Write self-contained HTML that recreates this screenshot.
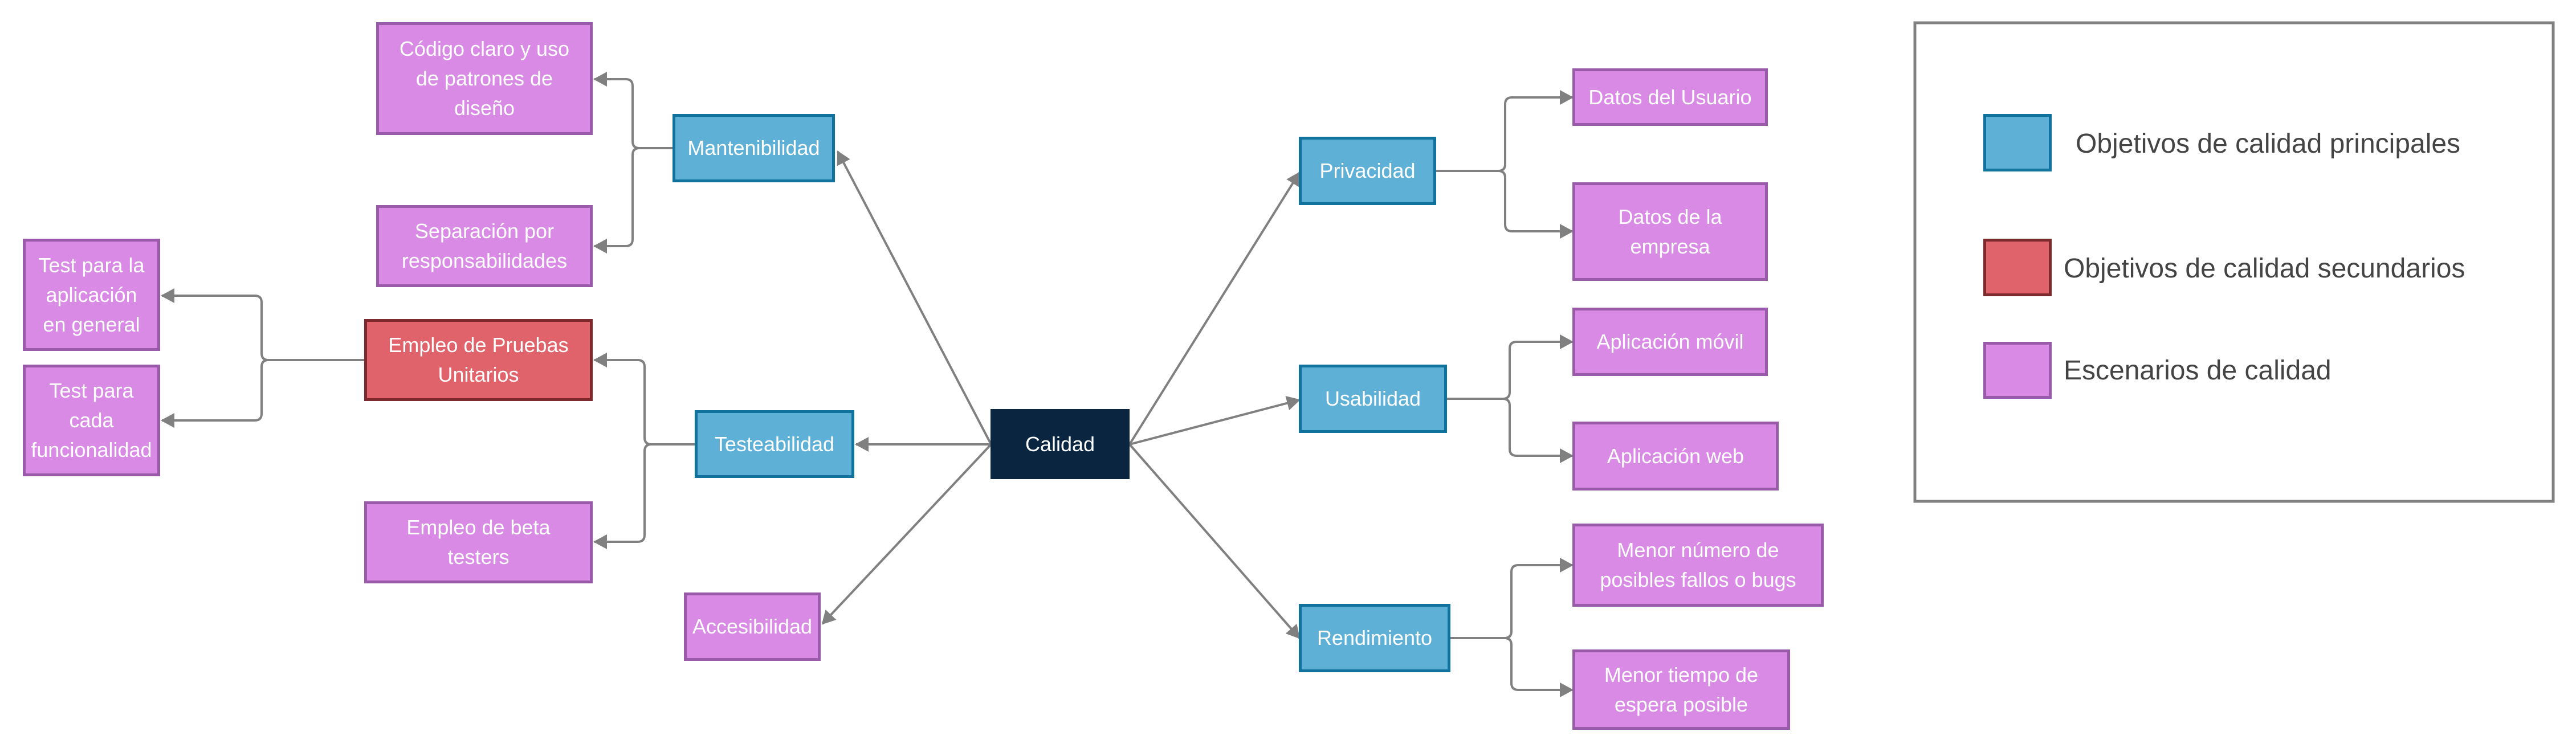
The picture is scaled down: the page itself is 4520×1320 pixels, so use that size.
<!DOCTYPE html>
<html><head><meta charset="utf-8"><style>
html,body{margin:0;padding:0;background:#fff;}
#c{position:relative;width:4520px;height:1320px;overflow:hidden;font-family:"Liberation Sans",sans-serif;}
.n{position:absolute;box-sizing:border-box;display:flex;align-items:center;justify-content:center;text-align:center;color:#fff;font-size:36px;line-height:52px;border:5px solid;}
.b{background:#5fb0d6;border-color:#10739e;}
.r{background:#e0636b;border-color:#7d2a2e;}
.p{background:#d88ae5;border-color:#9a5aaa;}
.d{background:#0a2540;border-color:#0a2540;}
.lt{position:absolute;font-size:48px;color:#444;white-space:nowrap;line-height:50px;}
svg{position:absolute;left:0;top:0;}
</style></head><body><div id="c">
<svg width="4520" height="1320">
<defs><marker id="a" markerUnits="userSpaceOnUse" markerWidth="24" markerHeight="26" refX="22" refY="13" orient="auto"><path d="M0,0 L24,13 L0,26 Z" fill="#808080"/></marker></defs>
<g fill="none" stroke="#808080" stroke-width="4">
<path d="M1180,260 H1122 Q1110,260 1110,248 V151 Q1110,139 1098,139 H1043" marker-end="url(#a)"/>
<path d="M1180,260 H1122 Q1110,260 1110,272 V420 Q1110,432 1098,432 H1043" marker-end="url(#a)"/>
<path d="M639,632 H471 Q459,632 459,620 V531 Q459,519 447,519 H284" marker-end="url(#a)"/>
<path d="M639,632 H471 Q459,632 459,644 V726 Q459,738 447,738 H284" marker-end="url(#a)"/>
<path d="M1219,780 H1143 Q1131,780 1131,768 V644 Q1131,632 1119,632 H1043" marker-end="url(#a)"/>
<path d="M1219,780 H1143 Q1131,780 1131,792 V939 Q1131,951 1119,951 H1043" marker-end="url(#a)"/>
<path d="M1739,780 L1470,266" marker-end="url(#a)"/>
<path d="M1739,780 H1502" marker-end="url(#a)"/>
<path d="M1739,780 L1443,1095" marker-end="url(#a)"/>
<path d="M1982,780 L2280,303" marker-end="url(#a)"/>
<path d="M1982,780 L2280,702" marker-end="url(#a)"/>
<path d="M1982,780 L2280,1120" marker-end="url(#a)"/>
<path d="M2520,300 H2629 Q2641,300 2641,288 V183 Q2641,171 2653,171 H2759" marker-end="url(#a)"/>
<path d="M2520,300 H2629 Q2641,300 2641,312 V394 Q2641,406 2653,406 H2759" marker-end="url(#a)"/>
<path d="M2539,700 H2637 Q2649,700 2649,688 V612 Q2649,600 2661,600 H2759" marker-end="url(#a)"/>
<path d="M2539,700 H2637 Q2649,700 2649,712 V788 Q2649,800 2661,800 H2759" marker-end="url(#a)"/>
<path d="M2545,1120 H2640 Q2652,1120 2652,1108 V1004 Q2652,992 2664,992 H2759" marker-end="url(#a)"/>
<path d="M2545,1120 H2640 Q2652,1120 2652,1132 V1199 Q2652,1211 2664,1211 H2759" marker-end="url(#a)"/>
</g>
<rect x="3360" y="40" width="1120" height="840" fill="none" stroke="#808080" stroke-width="5"/>
</svg>
<div class="n p" style="left:660px;top:39px;width:380px;height:198px;">Código claro y uso<br>de patrones de<br>diseño</div>
<div class="n b" style="left:1180px;top:200px;width:285px;height:120px;">Mantenibilidad</div>
<div class="n p" style="left:660px;top:360px;width:380px;height:144px;">Separación por<br>responsabilidades</div>
<div class="n p" style="left:40px;top:419px;width:241px;height:197px;">Test para la<br>aplicación<br>en general</div>
<div class="n p" style="left:40px;top:640px;width:241px;height:196px;">Test para<br>cada<br>funcionalidad</div>
<div class="n r" style="left:639px;top:560px;width:401px;height:144px;">Empleo de Pruebas<br>Unitarios</div>
<div class="n b" style="left:1219px;top:720px;width:280px;height:119px;">Testeabilidad</div>
<div class="n p" style="left:639px;top:880px;width:401px;height:144px;">Empleo de beta<br>testers</div>
<div class="n p" style="left:1200px;top:1040px;width:240px;height:120px;">Accesibilidad</div>
<div class="n d" style="left:1738px;top:718px;width:244px;height:123px;">Calidad</div>
<div class="n b" style="left:2279px;top:240px;width:241px;height:120px;">Privacidad</div>
<div class="n b" style="left:2279px;top:640px;width:260px;height:120px;">Usabilidad</div>
<div class="n b" style="left:2279px;top:1060px;width:266px;height:120px;">Rendimiento</div>
<div class="n p" style="left:2759px;top:120px;width:343px;height:101px;">Datos del Usuario</div>
<div class="n p" style="left:2759px;top:320px;width:343px;height:173px;">Datos de la<br>empresa</div>
<div class="n p" style="left:2759px;top:540px;width:343px;height:120px;">Aplicación móvil</div>
<div class="n p" style="left:2759px;top:740px;width:362px;height:121px;">Aplicación web</div>
<div class="n p" style="left:2759px;top:919px;width:441px;height:146px;">Menor número de<br>posibles fallos o bugs</div>
<div class="n p" style="left:2759px;top:1140px;width:382px;height:141px;">Menor tiempo de<br>espera posible</div>
<div class="n b" style="left:3480px;top:200px;width:120px;height:101px;"></div>
<div class="n r" style="left:3480px;top:419px;width:120px;height:101px;"></div>
<div class="n p" style="left:3480px;top:600px;width:120px;height:100px;"></div>
<div class="lt" style="left:3642px;top:228px;">Objetivos de calidad principales</div>
<div class="lt" style="left:3621px;top:447px;">Objetivos de calidad secundarios</div>
<div class="lt" style="left:3621px;top:626px;">Escenarios de calidad</div>
</div></body></html>
